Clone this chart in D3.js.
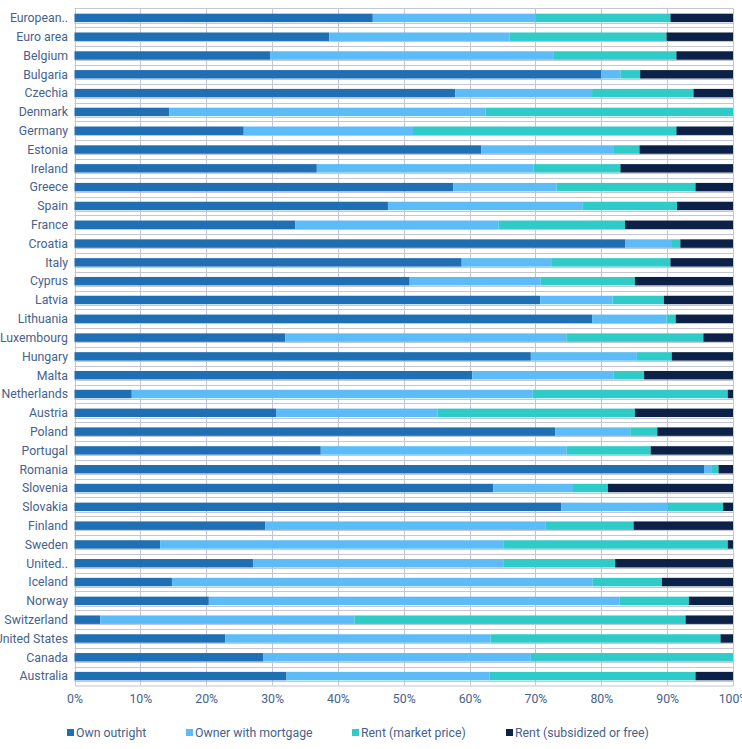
<!DOCTYPE html>
<html>
<head>
<meta charset="utf-8">
<script src="https://cdn.jsdelivr.net/npm/d3@7"></script>
<style>
  body { margin: 0; background: #fff; }
  text { font-family: Roboto, "Open Sans", sans-serif; }
</style>
</head>
<body>
<div id="chart"></div>
<script>
var countries = ["European..", "Euro area", "Belgium", "Bulgaria", "Czechia", "Denmark", "Germany", "Estonia", "Ireland",
  "Greece", "Spain", "France", "Croatia", "Italy", "Cyprus", "Latvia", "Lithuania", "Luxembourg", "Hungary",
  "Malta", "Netherlands", "Austria", "Poland", "Portugal", "Romania", "Slovenia", "Slovakia", "Finland",
  "Sweden", "United..", "Iceland", "Norway", "Switzerland", "United States", "Canada", "Australia"];

var ownOutright = [45.3, 38.7, 29.7, 80.0, 57.8, 14.4, 25.7, 61.8, 36.8, 57.5, 47.6, 33.5, 83.6, 58.8, 50.9, 70.7, 78.6, 32.0, 69.3,
  60.4, 8.7, 30.6, 73.0, 37.4, 95.6, 63.6, 73.9, 29.0, 13.0, 27.1, 14.8, 20.4, 3.9, 22.9, 28.7, 32.2];
var withMortgage = [24.7, 27.4, 43.1, 2.9, 20.8, 48.0, 25.7, 20.0, 32.9, 15.7, 29.6, 30.9, 7.0, 13.7, 19.9, 11.0, 11.3, 42.7, 16.1,
  21.5, 60.9, 24.5, 11.4, 37.3, 1.2, 12.1, 16.1, 42.5, 52.2, 38.1, 63.9, 62.4, 38.6, 40.3, 40.6, 30.8];
var rentMarket = [20.5, 23.8, 18.6, 3.0, 15.4, 37.6, 40.0, 4.0, 13.2, 21.1, 14.3, 19.2, 1.4, 18.0, 14.3, 7.8, 1.4, 20.8, 5.3,
  4.6, 29.6, 30.0, 4.1, 12.8, 1.0, 5.3, 8.5, 13.4, 34.0, 16.9, 10.5, 10.5, 50.3, 34.9, 30.7, 31.3];
var rentSubsidized = [9.5, 10.1, 8.6, 14.1, 6.0, 0.0, 8.6, 14.2, 17.1, 5.7, 8.5, 16.4, 8.0, 9.5, 14.9, 10.5, 8.7, 4.5, 9.3,
  13.5, 0.8, 14.9, 11.5, 12.5, 2.2, 19.0, 1.5, 15.1, 0.8, 17.9, 10.8, 6.7, 7.2, 1.9, 0.0, 5.7];

var seriesNames = ["Own outright", "Owner with mortgage", "Rent (market price)", "Rent (subsidized or free)"];
var seriesColors = ["#1f6fb4", "#5bbcf7", "#2fcbc8", "#0b2147"];
var xTicks = [0, 10, 20, 30, 40, 50, 60, 70, 80, 90, 100];

var width = 742, height = 749;
var margin = { left: 74.5, right: 9, top: 8.5, bottom: 63.5 };

var rows = countries.map(function (c, i) {
  return { country: c, own: ownOutright[i], mortgage: withMortgage[i], market: rentMarket[i], subsidized: rentSubsidized[i] };
});
var keys = ["own", "mortgage", "market", "subsidized"];

var svg = d3.select("#chart").append("svg")
  .attr("width", width)
  .attr("height", height);

var x = d3.scaleLinear().domain([0, 100]).range([margin.left, width - margin.right]);
var y = d3.scaleBand().domain(countries)
  .range([margin.top, height - margin.bottom])
  .paddingInner(0.55).paddingOuter(0.275);

var gridColor = "#c4c6d2";
var textColor = "#45628c";

// horizontal row lines
var step = y.step();
var grid = svg.append("g");
countries.forEach(function (c) {
  var c0 = y(c) + y.bandwidth() / 2;
  [c0 - step / 2, c0 + 4.7].forEach(function (yy) {
    grid.append("line")
      .attr("x1", x(0)).attr("x2", x(100))
      .attr("y1", Math.round(yy) + 0.5).attr("y2", Math.round(yy) + 0.5)
      .attr("stroke", gridColor).attr("stroke-width", 1);
  });
});
// vertical grid lines
grid.selectAll(".vgrid").data(xTicks).enter().append("line")
  .attr("x1", function (d) { return Math.round(x(d)) + 0.5; })
  .attr("x2", function (d) { return Math.round(x(d)) + 0.5; })
  .attr("y1", margin.top).attr("y2", height - margin.bottom)
  .attr("stroke", gridColor).attr("stroke-width", 1);

var stacked = d3.stack().keys(keys)(rows);

svg.append("g").selectAll("g")
  .data(stacked)
  .enter().append("g")
  .attr("fill", function (d, i) { return seriesColors[i]; })
  .selectAll("rect")
  .data(function (d) { return d; })
  .enter().append("rect")
  .attr("x", function (d) { return x(d[0]); })
  .attr("y", function (d) { return y(d.data.country); })
  .attr("width", function (d) { return Math.max(0, x(Math.min(100, d[1])) - x(d[0])); })
  .attr("height", y.bandwidth());

// y labels
svg.append("g").selectAll("text")
  .data(countries).enter().append("text")
  .attr("x", 68)
  .attr("y", function (d) { return y(d) + y.bandwidth() / 2; })
  .attr("dy", "0.35em")
  .attr("text-anchor", "end")
  .attr("font-size", 12.3)
  .attr("fill", textColor)
  .text(function (d) { return d; });

// x axis
var xAxis = svg.append("g")
  .attr("transform", "translate(0," + (height - margin.bottom) + ")")
  .call(d3.axisBottom(x).tickValues(xTicks).tickSize(0).tickPadding(9).tickFormat(function (d) { return d + "%"; }));
xAxis.select(".domain").attr("stroke", gridColor);
xAxis.selectAll("text").attr("font-size", 12.3).attr("fill", textColor)
  .style("font-family", "Roboto, 'Open Sans', sans-serif");

// legend
var legendX = [67, 186, 352, 506];
var legend = svg.append("g").attr("transform", "translate(0,733)");
seriesNames.forEach(function (name, i) {
  legend.append("rect")
    .attr("x", legendX[i]).attr("y", -4)
    .attr("width", 7).attr("height", 7)
    .attr("fill", seriesColors[i]);
  legend.append("text")
    .attr("x", legendX[i] + 9).attr("y", 0)
    .attr("dy", "0.35em")
    .attr("font-size", 12.3)
    .attr("fill", textColor)
    .text(name);
});
</script>
</body>
</html>
